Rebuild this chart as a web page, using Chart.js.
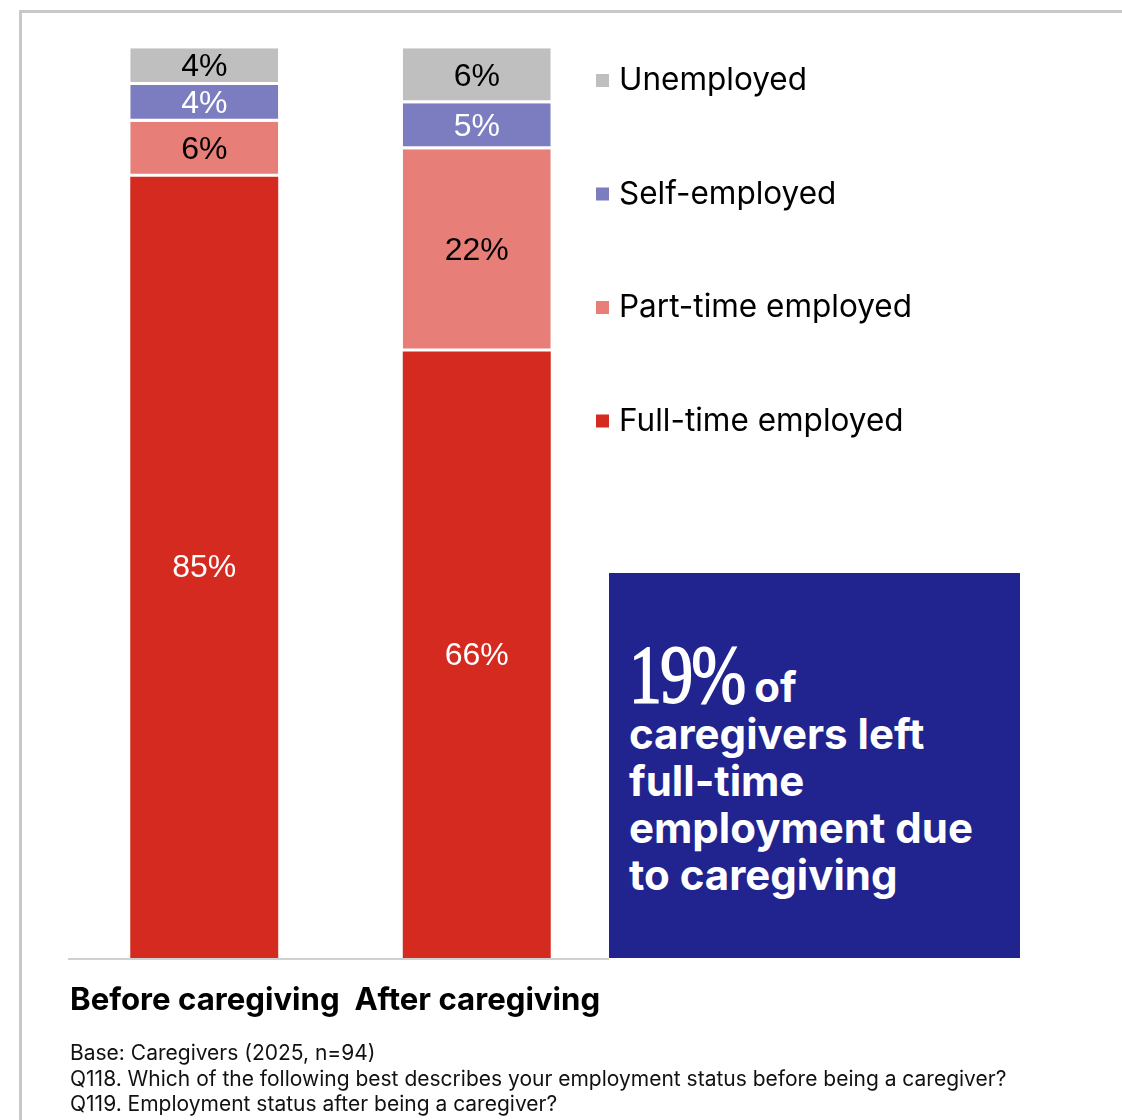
<!DOCTYPE html>
<html>
<head>
<meta charset="utf-8">
<script src="https://cdn.jsdelivr.net/npm/chart.js@4.4.1/dist/chart.umd.min.js"></script>
<style>
  html, body { margin: 0; padding: 0; background: #fff; }
  #wrap { position: relative; width: 1122px; height: 1120px; overflow: hidden; }
  #frame {
    position: absolute; left: 19px; top: 10px; width: 1200px; height: 1200px;
    border-top: 3px solid #c8c8c8; border-left: 3px solid #c8c8c8;
  }
  #chart { position: absolute; left: 0; top: 0; }
  #callout {
    position: absolute; left: 609px; top: 573px; width: 411px; height: 385px;
    background: #21248f; color: #fff; box-sizing: border-box; padding: 72px 0 0 20px;
    font-family: Inter, "Noto Sans", sans-serif; font-weight: 700; font-size: 42px; line-height: 47px;
  }
  #callout .big {
    display: inline-block; transform: scaleX(0.8); transform-origin: 0 0; margin-right: -29px;
    font-family: "Liberation Serif", "DejaVu Serif", serif; font-weight: 400; font-size: 82px;
    letter-spacing: -2px; -webkit-text-stroke: 1.8px #fff; line-height: 60px;
  }
  #notes {
    position: absolute; left: 70px; top: 1040px;
    font-family: Inter, "Noto Sans", sans-serif; font-size: 21px; line-height: 25.5px; color: #111;
  }
</style>
</head>
<body>
<div id="wrap">
  <div id="frame"></div>
  <canvas id="chart" width="1122" height="1120"></canvas>
  <div id="callout"><span class="big">19%</span> of<br>caregivers left<br>full-time<br>employment due<br>to caregiving</div>
  <div id="notes">
    Base: Caregivers (2025, n=94)<br>
    Q118. Which of the following best describes your employment status before being a caregiver?<br>
    Q119. Employment status after being a caregiver?
  </div>
</div>
<script>
// Categories and series (percent)
const categories = ['Before caregiving', 'After caregiving'];
const fullTime = [85, 66];
const partTime = [6, 22];
const selfEmployed = [4, 5];
const unemployed = [4, 6];

const seriesNames = ['Full-time employed', 'Part-time employed', 'Self-employed', 'Unemployed'];
const seriesColors = ['#d42a1f', '#e77f78', '#7b7dc0', '#bfbfbf'];
const labelColors = ['#ffffff', '#000000', '#ffffff', '#000000'];

// value labels inside each segment
const segmentLabels = {
  id: 'segmentLabels',
  afterDatasetsDraw(chart) {
    const ctx = chart.ctx;
    ctx.save();
    ctx.font = '32px "Liberation Sans", Arial, sans-serif';
    ctx.textAlign = 'center';
    ctx.textBaseline = 'middle';
    chart.data.datasets.forEach((ds, i) => {
      chart.getDatasetMeta(i).data.forEach((bar, j) => {
        const top = bar.y, bottom = bar.base;
        ctx.fillStyle = labelColors[i];
        ctx.fillText(ds.data[j] + '%', bar.x, (top + bottom) / 2 + 1);
      });
    });
    ctx.restore();
  }
};

// baseline, legend on the right and category labels underneath
const extras = {
  id: 'extras',
  afterDraw(chart) {
    const ctx = chart.ctx;
    const area = chart.chartArea;
    ctx.save();
    ctx.strokeStyle = '#d0d0d0';
    ctx.lineWidth = 2;
    ctx.beginPath();
    ctx.moveTo(area.left, area.bottom + 1);
    ctx.lineTo(609, area.bottom + 1);
    ctx.stroke();

    // legend, top item is the last dataset
    ctx.font = '31.5px Inter, "Noto Sans", sans-serif';
    ctx.textBaseline = 'middle';
    ctx.textAlign = 'left';
    const n = chart.data.datasets.length;
    for (let k = 0; k < n; k++) {
      const ds = chart.data.datasets[n - 1 - k];
      const y = 80 + k * 113.5;
      ctx.fillStyle = ds.backgroundColor;
      ctx.fillRect(596, y - 6, 13, 13);
      ctx.fillStyle = '#000';
      ctx.fillText(ds.label, 619, y + 1);
    }

    // category labels
    ctx.font = '700 31.2px Inter, "Noto Sans", sans-serif';
    ctx.fillStyle = '#000';
    ctx.textBaseline = 'alphabetic';
    ctx.fillText(chart.data.labels.join('  '), 70, 1010);
    ctx.restore();
  }
};

const seriesData = [fullTime, partTime, selfEmployed, unemployed];

new Chart(document.getElementById('chart'), {
  type: 'bar',
  data: {
    labels: categories,
    datasets: seriesData.map((d, i) => ({
      label: seriesNames[i],
      data: d,
      backgroundColor: seriesColors[i],
      borderColor: '#ffffff',
      borderWidth: i === 0 ? 0 : { top: 0, bottom: 3, left: 0, right: 0 },
      borderSkipped: false,
      categoryPercentage: 1,
      barPercentage: 0.543
    }))
  },
  options: {
    responsive: false,
    animation: false,
    layout: { padding: { left: 68, right: 509, top: 39, bottom: 162 } },
    scales: {
      x: { stacked: true, display: false },
      y: { stacked: true, display: false, min: 0, max: 100 }
    },
    plugins: { legend: { display: false }, tooltip: { enabled: false } }
  },
  plugins: [segmentLabels, extras]
});
</script>
</body>
</html>
